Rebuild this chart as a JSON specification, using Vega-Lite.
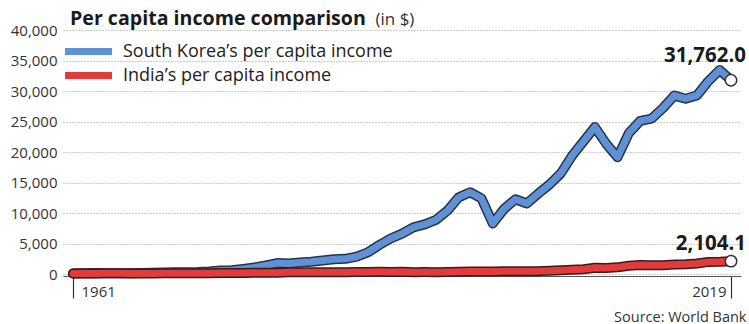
{
  "$schema": "https://vega.github.io/schema/vega-lite/v6.json",
  "autosize": "none",
  "width": 678,
  "height": 244,
  "padding": {"left": 63, "top": 30, "right": 8, "bottom": 50},
  "background": "white",
  "title": {
    "text": "Per capita income comparison",
    "anchor": "start",
    "frame": "group",
    "dx": 7,
    "offset": -34.5,
    "baseline": "alphabetic",
    "font": "Open Sans",
    "fontSize": 19.6,
    "fontWeight": "bold",
    "color": "#1a1a1a"
  },
  "config": {
    "view": {"stroke": null},
    "font": "Open Sans",
    "legend": {
      "orient": "none",
      "legendX": 16,
      "legendY": 12,
      "padding": 0,
      "symbolType": "M-4,0H4",
      "symbolSize": 138,
      "symbolStrokeWidth": 7,
      "labelFont": "Open Sans",
      "labelFontSize": 18,
      "labelColor": "#222",
      "labelOffset": 25,
      "labelLimit": 400,
      "rowPadding": -5
    }
  },
  "datasets": {
    "income": [
      {"country": "South Korea’s per capita income", "year": 1961, "value": 94},
      {"country": "South Korea’s per capita income", "year": 1962, "value": 106},
      {"country": "South Korea’s per capita income", "year": 1963, "value": 146},
      {"country": "South Korea’s per capita income", "year": 1964, "value": 124},
      {"country": "South Korea’s per capita income", "year": 1965, "value": 109},
      {"country": "South Korea’s per capita income", "year": 1966, "value": 133},
      {"country": "South Korea’s per capita income", "year": 1967, "value": 161},
      {"country": "South Korea’s per capita income", "year": 1968, "value": 199},
      {"country": "South Korea’s per capita income", "year": 1969, "value": 243},
      {"country": "South Korea’s per capita income", "year": 1970, "value": 279},
      {"country": "South Korea’s per capita income", "year": 1971, "value": 301},
      {"country": "South Korea’s per capita income", "year": 1972, "value": 324},
      {"country": "South Korea’s per capita income", "year": 1973, "value": 407},
      {"country": "South Korea’s per capita income", "year": 1974, "value": 563},
      {"country": "South Korea’s per capita income", "year": 1975, "value": 616},
      {"country": "South Korea’s per capita income", "year": 1976, "value": 830},
      {"country": "South Korea’s per capita income", "year": 1977, "value": 1055},
      {"country": "South Korea’s per capita income", "year": 1978, "value": 1405},
      {"country": "South Korea’s per capita income", "year": 1979, "value": 1784},
      {"country": "South Korea’s per capita income", "year": 1980, "value": 1715},
      {"country": "South Korea’s per capita income", "year": 1981, "value": 1883},
      {"country": "South Korea’s per capita income", "year": 1982, "value": 1993},
      {"country": "South Korea’s per capita income", "year": 1983, "value": 2199},
      {"country": "South Korea’s per capita income", "year": 1984, "value": 2413},
      {"country": "South Korea’s per capita income", "year": 1985, "value": 2482},
      {"country": "South Korea’s per capita income", "year": 1986, "value": 2835},
      {"country": "South Korea’s per capita income", "year": 1987, "value": 3555},
      {"country": "South Korea’s per capita income", "year": 1988, "value": 4749},
      {"country": "South Korea’s per capita income", "year": 1989, "value": 5817},
      {"country": "South Korea’s per capita income", "year": 1990, "value": 6610},
      {"country": "South Korea’s per capita income", "year": 1991, "value": 7637},
      {"country": "South Korea’s per capita income", "year": 1992, "value": 8127},
      {"country": "South Korea’s per capita income", "year": 1993, "value": 8885},
      {"country": "South Korea’s per capita income", "year": 1994, "value": 10385},
      {"country": "South Korea’s per capita income", "year": 1995, "value": 12565},
      {"country": "South Korea’s per capita income", "year": 1996, "value": 13403},
      {"country": "South Korea’s per capita income", "year": 1997, "value": 12398},
      {"country": "South Korea’s per capita income", "year": 1998, "value": 8282},
      {"country": "South Korea’s per capita income", "year": 1999, "value": 10672},
      {"country": "South Korea’s per capita income", "year": 2000, "value": 12257},
      {"country": "South Korea’s per capita income", "year": 2001, "value": 11561},
      {"country": "South Korea’s per capita income", "year": 2002, "value": 13165},
      {"country": "South Korea’s per capita income", "year": 2003, "value": 14673},
      {"country": "South Korea’s per capita income", "year": 2004, "value": 16496},
      {"country": "South Korea’s per capita income", "year": 2005, "value": 19403},
      {"country": "South Korea’s per capita income", "year": 2006, "value": 21743},
      {"country": "South Korea’s per capita income", "year": 2007, "value": 24086},
      {"country": "South Korea’s per capita income", "year": 2008, "value": 21350},
      {"country": "South Korea’s per capita income", "year": 2009, "value": 19144},
      {"country": "South Korea’s per capita income", "year": 2010, "value": 23087},
      {"country": "South Korea’s per capita income", "year": 2011, "value": 25096},
      {"country": "South Korea’s per capita income", "year": 2012, "value": 25467},
      {"country": "South Korea’s per capita income", "year": 2013, "value": 27182},
      {"country": "South Korea’s per capita income", "year": 2014, "value": 29250},
      {"country": "South Korea’s per capita income", "year": 2015, "value": 28737},
      {"country": "South Korea’s per capita income", "year": 2016, "value": 29274},
      {"country": "South Korea’s per capita income", "year": 2017, "value": 31605},
      {"country": "South Korea’s per capita income", "year": 2018, "value": 33447},
      {"country": "South Korea’s per capita income", "year": 2019, "value": 31762.0},
      {"country": "India’s per capita income", "year": 1961, "value": 86},
      {"country": "India’s per capita income", "year": 1962, "value": 91},
      {"country": "India’s per capita income", "year": 1963, "value": 102},
      {"country": "India’s per capita income", "year": 1964, "value": 116},
      {"country": "India’s per capita income", "year": 1965, "value": 119},
      {"country": "India’s per capita income", "year": 1966, "value": 90},
      {"country": "India’s per capita income", "year": 1967, "value": 97},
      {"country": "India’s per capita income", "year": 1968, "value": 100},
      {"country": "India’s per capita income", "year": 1969, "value": 108},
      {"country": "India’s per capita income", "year": 1970, "value": 112},
      {"country": "India’s per capita income", "year": 1971, "value": 119},
      {"country": "India’s per capita income", "year": 1972, "value": 122},
      {"country": "India’s per capita income", "year": 1973, "value": 143},
      {"country": "India’s per capita income", "year": 1974, "value": 163},
      {"country": "India’s per capita income", "year": 1975, "value": 158},
      {"country": "India’s per capita income", "year": 1976, "value": 161},
      {"country": "India’s per capita income", "year": 1977, "value": 186},
      {"country": "India’s per capita income", "year": 1978, "value": 206},
      {"country": "India’s per capita income", "year": 1979, "value": 224},
      {"country": "India’s per capita income", "year": 1980, "value": 267},
      {"country": "India’s per capita income", "year": 1981, "value": 271},
      {"country": "India’s per capita income", "year": 1982, "value": 275},
      {"country": "India’s per capita income", "year": 1983, "value": 292},
      {"country": "India’s per capita income", "year": 1984, "value": 277},
      {"country": "India’s per capita income", "year": 1985, "value": 296},
      {"country": "India’s per capita income", "year": 1986, "value": 310},
      {"country": "India’s per capita income", "year": 1987, "value": 340},
      {"country": "India’s per capita income", "year": 1988, "value": 354},
      {"country": "India’s per capita income", "year": 1989, "value": 346},
      {"country": "India’s per capita income", "year": 1990, "value": 368},
      {"country": "India’s per capita income", "year": 1991, "value": 303},
      {"country": "India’s per capita income", "year": 1992, "value": 317},
      {"country": "India’s per capita income", "year": 1993, "value": 301},
      {"country": "India’s per capita income", "year": 1994, "value": 346},
      {"country": "India’s per capita income", "year": 1995, "value": 374},
      {"country": "India’s per capita income", "year": 1996, "value": 400},
      {"country": "India’s per capita income", "year": 1997, "value": 415},
      {"country": "India’s per capita income", "year": 1998, "value": 413},
      {"country": "India’s per capita income", "year": 1999, "value": 442},
      {"country": "India’s per capita income", "year": 2000, "value": 443},
      {"country": "India’s per capita income", "year": 2001, "value": 452},
      {"country": "India’s per capita income", "year": 2002, "value": 471},
      {"country": "India’s per capita income", "year": 2003, "value": 546},
      {"country": "India’s per capita income", "year": 2004, "value": 624},
      {"country": "India’s per capita income", "year": 2005, "value": 710},
      {"country": "India’s per capita income", "year": 2006, "value": 792},
      {"country": "India’s per capita income", "year": 2007, "value": 1018},
      {"country": "India’s per capita income", "year": 2008, "value": 991},
      {"country": "India’s per capita income", "year": 2009, "value": 1090},
      {"country": "India’s per capita income", "year": 2010, "value": 1358},
      {"country": "India’s per capita income", "year": 2011, "value": 1458},
      {"country": "India’s per capita income", "year": 2012, "value": 1444},
      {"country": "India’s per capita income", "year": 2013, "value": 1450},
      {"country": "India’s per capita income", "year": 2014, "value": 1574},
      {"country": "India’s per capita income", "year": 2015, "value": 1606},
      {"country": "India’s per capita income", "year": 2016, "value": 1733},
      {"country": "India’s per capita income", "year": 2017, "value": 1981},
      {"country": "India’s per capita income", "year": 2018, "value": 1997},
      {"country": "India’s per capita income", "year": 2019, "value": 2104.1}
    ]
  },
  "data": {"name": "income"},
  "encoding": {
    "x": {
      "field": "year",
      "type": "quantitative",
      "scale": {"domain": [1960.118, 2019.881], "nice": false, "zero": false},
      "axis": {
        "title": "Source: World Bank",
        "titleFont": "Open Sans",
        "titleFontSize": 14.5,
        "titleFontWeight": "normal",
        "titleColor": "#333",
        "titleAnchor": "end",
        "titleAlign": "right",
        "titleBaseline": "alphabetic",
        "titleX": 683,
        "titleY": 45,
        "values": [1961, 2019],
        "format": "d",
        "grid": false,
        "domainColor": "#555",
        "domainWidth": 1,
        "offset": 2,
        "tickSize": 22,
        "tickColor": "#333",
        "tickWidth": 1.2,
        "labelFont": "Open Sans",
        "labelFontSize": 15,
        "labelColor": "#333",
        "labelPadding": -14,
        "labelBaseline": "top",
        "labelAlign": {"condition": {"test": "datum.value == 1961", "value": "left"}, "value": "right"},
        "labelOffset": {"condition": {"test": "datum.value == 1961", "value": 8}, "value": -5}
      }
    },
    "y": {
      "field": "value",
      "type": "quantitative",
      "scale": {"domain": [0, 40000], "nice": false},
      "axis": {
        "title": "(in $)",
        "titleAngle": 0,
        "titleX": 312,
        "titleY": -6,
        "titleAlign": "left",
        "titleBaseline": "alphabetic",
        "titleFont": "Open Sans",
        "titleFontSize": 17,
        "titleFontWeight": "normal",
        "titleColor": "#333",
        "values": [0, 5000, 10000, 15000, 20000, 25000, 30000, 35000, 40000],
        "format": ",d",
        "domain": false,
        "ticks": false,
        "labelPadding": 6,
        "labelFont": "Open Sans",
        "labelFontSize": 15,
        "labelColor": "#333",
        "gridColor": "#999",
        "gridDash": [1, 2],
        "gridWidth": 1
      }
    }
  },
  "layer": [
    {
      "transform": [{"filter": "datum.country == 'South Korea’s per capita income'"}],
      "mark": {"type": "line", "color": "#26324a", "strokeWidth": 10, "strokeJoin": "round", "strokeCap": "round"},
      "encoding": {}
    },
    {
      "transform": [{"filter": "datum.country == 'South Korea’s per capita income'"}],
      "mark": {"type": "line", "strokeWidth": 7, "strokeJoin": "round", "strokeCap": "round"},
      "encoding": {
        "color": {
          "field": "country",
          "type": "nominal",
          "scale": {"domain": ["South Korea’s per capita income", "India’s per capita income"], "range": ["#5e92d4", "#e23b3b"]},
          "legend": {"title": null}
        }
      }
    },
    {
      "transform": [{"filter": "datum.country == 'India’s per capita income'"}],
      "mark": {"type": "line", "color": "#3a1a1a", "strokeWidth": 10, "strokeJoin": "round", "strokeCap": "round"},
      "encoding": {}
    },
    {
      "transform": [{"filter": "datum.country == 'India’s per capita income'"}],
      "mark": {"type": "line", "strokeWidth": 7, "strokeJoin": "round", "strokeCap": "round"},
      "encoding": {
        "color": {"field": "country", "type": "nominal", "legend": {"title": null}}
      }
    },
    {
      "transform": [{"filter": "datum.year == 2019"}],
      "mark": {"type": "point", "filled": true, "fill": "white", "stroke": "#333", "strokeWidth": 1.5, "size": 130, "opacity": 1},
      "encoding": {}
    },
    {
      "transform": [{"filter": "datum.year == 2019 && datum.country == 'South Korea’s per capita income'"}],
      "mark": {"type": "text", "align": "right", "baseline": "alphabetic", "dx": 15, "dy": -18, "font": "Open Sans", "fontSize": 20.5, "fontWeight": "bold", "color": "#1a1a1a"},
      "encoding": {"text": {"field": "value", "format": ",.1f"}}
    },
    {
      "transform": [{"filter": "datum.year == 2019 && datum.country == 'India’s per capita income'"}],
      "mark": {"type": "text", "align": "right", "baseline": "alphabetic", "dx": 15, "dy": -11, "font": "Open Sans", "fontSize": 20.5, "fontWeight": "bold", "color": "#1a1a1a"},
      "encoding": {"text": {"field": "value", "format": ",.1f"}}
    }
  ]
}
